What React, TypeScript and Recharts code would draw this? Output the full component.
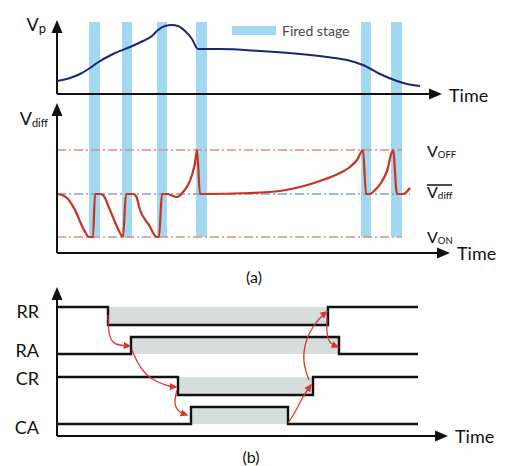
import React from 'react';
import {
  ComposedChart,
  Line,
  XAxis,
  YAxis,
  ReferenceArea,
  ReferenceLine,
  ReferenceDot,
  Legend,
} from 'recharts';

const W = 507;
const H = 466;
const FONT = 'Lato, "Open Sans", "DejaVu Sans", sans-serif';
const INK = '#111111';
const BAR_BLUE = '#a3d9f0';
const VP_NAVY = '#1c2675';
const VDIFF_RED = '#c8321f';
const OFF_ON_PINK = '#d98c86';
const MEAN_BLUE = '#7f9fd8';
const SHADE_GREY = '#d7dddd';
const ARROW_RED = '#d23a2e';

// ---------- shared time axis (arbitrary units) ----------
const TIME_DOMAIN: [number, number] = [0, 390];

// ---------- fired stages ----------
const firedStart = [32, 65, 100, 139, 304, 334];
const firedEnd = [43, 75, 110, 150, 314, 345];

// ---------- (a) top panel: Vp ----------
const VP_DOMAIN: [number, number] = [0, 74];
const vpTime = [0, 13, 23, 33, 40, 56, 73, 86, 95, 101, 108, 115, 121, 128, 135, 141, 163, 203, 243, 270, 290, 306, 323, 340, 350, 363];
const vpValue = [13, 16, 20, 26, 31, 40, 47, 53, 58, 64, 68, 69, 68, 63, 55, 45, 45, 43, 40, 37, 34, 29, 20, 13, 10, 8];
const VP_AXIS_TIP_T = 385;

// ---------- (a) bottom panel: Vdiff ----------
const VDIFF_DOMAIN: [number, number] = [0, 150];
const vdiffTime = [0, 5, 10, 18, 26, 32, 36, 38, 43, 46, 53, 58, 63, 66, 69, 76, 79, 83, 92, 100, 102, 105, 110, 116, 120, 126, 131, 135, 138, 140, 143, 193, 223, 243, 263, 283, 293, 300, 306, 309, 313, 318, 324, 330, 336, 340, 346, 353];
const vdiffValue = [59, 58, 55, 43, 25, 16, 16, 59, 59, 58, 43, 31, 20, 16, 59, 59, 57, 43, 28, 16, 16, 59, 59, 57, 56, 61, 68, 78, 90, 103, 59, 60, 62, 66, 72, 80, 86, 93, 103, 59, 59, 63, 70, 82, 103, 59, 59, 65];
const thresholdName = ['off', 'mean', 'on'];
const thresholdValue = [103, 59, 16];
const thresholdEnd = [345, 353, 345];
const FIRED_TOP = 231; // top of the fired-stage bands, in Vdiff units
const VDIFF_AXIS_TIP_T = 393;
const THRESHOLD_LABEL_T = 370;

// ---------- (b) handshake signals ----------
const SIGNAL_DOMAIN: [number, number] = [0, 149];
const signalNames = ['RR', 'RA', 'CR', 'CA'];
const signalHigh = [129, 99, 59, 29];
const signalLow = [111, 82, 41, 12];
const signalStartsHigh = [true, false, true, false];
const signalEdge1 = [51, 74, 121, 134];
const signalEdge2 = [271, 282, 256, 231];
const SIGNAL_END = 361;
const signalTick = [124.5, 85, 57, 8];
const SIGNAL_AXIS_TIP_T = 391;

const arrowTime = [
  [51, 52, 56, 63, 73],
  [75, 81, 90, 101, 112, 119],
  [120, 118, 119, 123, 130],
  [231, 238, 246, 254],
  [252, 247, 249, 256, 264, 270],
  [270, 270, 273, 281],
];
const arrowValue = [
  [121, 104, 94, 91, 90],
  [86, 73, 61, 54, 50, 49],
  [46, 36, 29, 24, 21],
  [13, 24, 39, 51],
  [56, 74, 94, 109, 119, 124],
  [118, 104, 94, 89],
];

// ---------- derived tables ----------
const toPts = (ts: number[], vs: number[]) => ts.map((t, i) => ({ t, v: vs[i] }));
const vpData = toPts(vpTime, vpValue);
const vdiffData = toPts(vdiffTime, vdiffValue);
const signalData = signalNames.map((_, i) => {
  const a = signalStartsHigh[i] ? signalHigh[i] : signalLow[i];
  const b = signalStartsHigh[i] ? signalLow[i] : signalHigh[i];
  return [
    { t: 0, v: a },
    { t: signalEdge1[i], v: b },
    { t: signalEdge2[i], v: a },
    { t: SIGNAL_END, v: a },
  ];
});
const arrowData = arrowTime.map((ts, i) => toPts(ts, arrowValue[i]));
const tickName: Record<number, string> = {};
signalTick.forEach((v, i) => (tickName[v] = signalNames[i]));

// ---------- shapes ----------
const upHead = (p: any) => (
  <polygon points={`${p.cx},${p.cy} ${p.cx - 5.5},${p.cy + 13} ${p.cx + 5.5},${p.cy + 13}`} fill={INK} />
);
const rightHead = (p: any) => (
  <polygon points={`${p.cx},${p.cy} ${p.cx - 13},${p.cy - 5.5} ${p.cx - 13},${p.cy + 5.5}`} fill={INK} />
);
const timeLabel = (dx: number, dy: number) => (p: any) => (
  <text x={p.cx + dx} y={p.cy + dy} fontFamily={FONT} fontSize={18} fill={INK}>
    Time
  </text>
);
const subLabel =
  (main: string, sub: string, o: { dx: number; dy: number; size: number; subSize: number; subDy: number; anchor?: string; overline?: number }) =>
  (p: any) => (
    <g>
      {o.overline ? (
        <line x1={p.cx + o.dx} x2={p.cx + o.dx + o.overline} y1={p.cy + o.dy - 13} y2={p.cy + o.dy - 13} stroke={INK} strokeWidth={1.5} />
      ) : null}
      <text x={p.cx + o.dx} y={p.cy + o.dy} textAnchor={(o.anchor as any) ?? 'start'} fontFamily={FONT} fontSize={o.size} fill={INK}>
        {main}
        <tspan fontSize={o.subSize} dy={o.subDy}>
          {sub}
        </tspan>
      </text>
    </g>
  );

const thresholdStyle: Record<string, { color: string; label: any }> = {
  off: { color: OFF_ON_PINK, label: subLabel('V', 'OFF', { dx: 0, dy: 7, size: 16, subSize: 9.5, subDy: 1 }) },
  mean: { color: MEAN_BLUE, label: subLabel('V', 'diff', { dx: 0, dy: 4, size: 16, subSize: 10, subDy: 1, overline: 25 }) },
  on: { color: OFF_ON_PINK, label: subLabel('V', 'ON', { dx: 0, dy: 6, size: 16, subSize: 9.5, subDy: 1 }) },
};

const axisStroke = { stroke: INK, strokeWidth: 2 };

function LegendContent() {
  return (
    <div style={{ display: 'flex', alignItems: 'center', fontFamily: FONT, fontSize: 14, color: '#474747', whiteSpace: 'nowrap' }}>
      <span style={{ display: 'inline-block', width: 44, height: 9, background: BAR_BLUE, marginRight: 6 }} />
      Fired stage
    </div>
  );
}

const layer: React.CSSProperties = { position: 'absolute', left: 0, top: 0, width: W, height: H };

export default function App() {
  return (
    <div style={{ position: 'absolute', left: 0, top: 0, width: W, height: H, background: '#ffffff', overflow: 'hidden' }}>
      <svg width={0} height={0} style={{ position: 'absolute' }}>
        <defs>
          <marker id="redHead" viewBox="0 0 10 10" refX="8" refY="5" markerWidth="8" markerHeight="8" markerUnits="userSpaceOnUse" orient="auto">
            <path d="M0,0.5 L10,5 L0,9.5 z" fill={ARROW_RED} />
          </marker>
        </defs>
      </svg>

      {/* (a) bottom: Vdiff with fired-stage bands */}
      <div style={layer}>
        <ComposedChart width={W} height={H} margin={{ top: 103, right: 60, bottom: 213, left: 57 }}>
          <XAxis type="number" dataKey="t" domain={TIME_DOMAIN} hide allowDataOverflow />
          <YAxis type="number" domain={VDIFF_DOMAIN} hide allowDataOverflow />
          {firedStart.map((s, i) => (
            <ReferenceArea key={`f${i}`} x1={s} x2={firedEnd[i]} y1={thresholdValue[2]} y2={FIRED_TOP} fill={BAR_BLUE} fillOpacity={1} stroke="none" ifOverflow="visible" />
          ))}
          {thresholdName.map((n, i) => (
            <ReferenceLine
              key={`th${n}`}
              segment={[
                { x: 0, y: thresholdValue[i] },
                { x: thresholdEnd[i], y: thresholdValue[i] },
              ]}
              stroke={thresholdStyle[n].color}
              strokeWidth={1.6}
              strokeDasharray="9 3 2 3"
              ifOverflow="visible"
            />
          ))}
          <Line data={vdiffData} dataKey="v" type="monotone" stroke={VDIFF_RED} strokeWidth={2.2} dot={false} activeDot={false} isAnimationActive={false} />
          <ReferenceLine segment={[{ x: 0, y: 0 }, { x: VDIFF_AXIS_TIP_T - 6, y: 0 }]} {...axisStroke} ifOverflow="visible" />
          <ReferenceLine segment={[{ x: 0, y: 0 }, { x: 0, y: VDIFF_DOMAIN[1] - 6 }]} {...axisStroke} ifOverflow="visible" />
          <ReferenceDot x={VDIFF_AXIS_TIP_T} y={0} ifOverflow="visible" shape={rightHead} />
          <ReferenceDot x={0} y={VDIFF_DOMAIN[1]} ifOverflow="visible" shape={upHead} />
          <ReferenceDot x={VDIFF_AXIS_TIP_T} y={0} ifOverflow="visible" shape={timeLabel(7, 7)} />
          <ReferenceDot x={0} y={VDIFF_DOMAIN[1]} ifOverflow="visible" shape={subLabel('V', 'diff', { dx: -9, dy: 22, size: 18, subSize: 11, subDy: 2, anchor: 'end' })} />
          {thresholdName.map((n, i) => (
            <ReferenceDot key={`tl${n}`} x={THRESHOLD_LABEL_T} y={thresholdValue[i]} ifOverflow="visible" shape={thresholdStyle[n].label} />
          ))}
        </ComposedChart>
      </div>

      {/* (a) top: Vp */}
      <div style={layer}>
        <ComposedChart width={W} height={H} margin={{ top: 20, right: 60, bottom: 372, left: 57 }}>
          <XAxis type="number" dataKey="t" domain={TIME_DOMAIN} hide allowDataOverflow />
          <YAxis type="number" domain={VP_DOMAIN} hide allowDataOverflow />
          <Legend layout="vertical" align="center" verticalAlign="middle" wrapperStyle={{ position: 'absolute', left: 232, top: 22, width: 150, height: 18 }} content={LegendContent} />
          <Line data={vpData} dataKey="v" name="Vp" type="monotone" stroke={VP_NAVY} strokeWidth={2} dot={false} activeDot={false} isAnimationActive={false} />
          <ReferenceLine segment={[{ x: 0, y: 0 }, { x: VP_AXIS_TIP_T - 6, y: 0 }]} {...axisStroke} ifOverflow="visible" />
          <ReferenceLine segment={[{ x: 0, y: 0 }, { x: 0, y: VP_DOMAIN[1] - 6 }]} {...axisStroke} ifOverflow="visible" />
          <ReferenceDot x={VP_AXIS_TIP_T} y={0} ifOverflow="visible" shape={rightHead} />
          <ReferenceDot x={0} y={VP_DOMAIN[1]} ifOverflow="visible" shape={upHead} />
          <ReferenceDot x={VP_AXIS_TIP_T} y={0} ifOverflow="visible" shape={timeLabel(7, 8)} />
          <ReferenceDot x={0} y={VP_DOMAIN[1]} ifOverflow="visible" shape={subLabel('V', 'p', { dx: -11, dy: 11, size: 18, subSize: 13, subDy: 2, anchor: 'end' })} />
        </ComposedChart>
      </div>

      {/* (b) handshake */}
      <div style={layer}>
        <ComposedChart width={W} height={H} margin={{ top: 287, right: 60, bottom: 30, left: 0 }}>
          <XAxis type="number" dataKey="t" domain={TIME_DOMAIN} hide allowDataOverflow />
          <YAxis
            type="number"
            domain={SIGNAL_DOMAIN}
            allowDataOverflow
            width={57}
            ticks={signalTick}
            interval={0}
            tickFormatter={(v: number) => tickName[v] ?? ''}
            axisLine={false}
            tickLine={false}
            tickSize={0}
            tickMargin={18}
            tick={{ fontSize: 18, fill: INK, fontFamily: FONT }}
          />
          {signalNames.map((n, i) => (
            <ReferenceArea key={`g${n}`} x1={signalEdge1[i]} x2={signalEdge2[i]} y1={signalLow[i]} y2={signalHigh[i]} fill={SHADE_GREY} fillOpacity={1} stroke="none" ifOverflow="visible" />
          ))}
          {signalNames.map((n, i) => (
            <Line key={`s${n}`} data={signalData[i]} dataKey="v" name={n} type="stepAfter" stroke={INK} strokeWidth={2.4} dot={false} activeDot={false} isAnimationActive={false} />
          ))}
          {arrowData.map((d, i) => (
            <Line key={`a${i}`} data={d} dataKey="v" type="natural" stroke={ARROW_RED} strokeWidth={1.3} dot={false} activeDot={false} markerEnd="url(#redHead)" isAnimationActive={false} />
          ))}
          <ReferenceLine segment={[{ x: 0, y: 0 }, { x: SIGNAL_AXIS_TIP_T - 6, y: 0 }]} {...axisStroke} ifOverflow="visible" />
          <ReferenceLine segment={[{ x: 0, y: 0 }, { x: 0, y: SIGNAL_DOMAIN[1] - 6 }]} {...axisStroke} ifOverflow="visible" />
          <ReferenceDot x={SIGNAL_AXIS_TIP_T} y={0} ifOverflow="visible" shape={rightHead} />
          <ReferenceDot x={0} y={SIGNAL_DOMAIN[1]} ifOverflow="visible" shape={upHead} />
          <ReferenceDot x={SIGNAL_AXIS_TIP_T} y={0} ifOverflow="visible" shape={timeLabel(7, 7)} />
        </ComposedChart>
      </div>

      <div style={{ position: 'absolute', left: 234, top: 269, width: 40, textAlign: 'center', fontFamily: FONT, fontSize: 16, lineHeight: '16px', color: INK }}>(a)</div>
      <div style={{ position: 'absolute', left: 231, top: 449, width: 40, textAlign: 'center', fontFamily: FONT, fontSize: 16, lineHeight: '16px', color: INK }}>(b)</div>
    </div>
  );
}
